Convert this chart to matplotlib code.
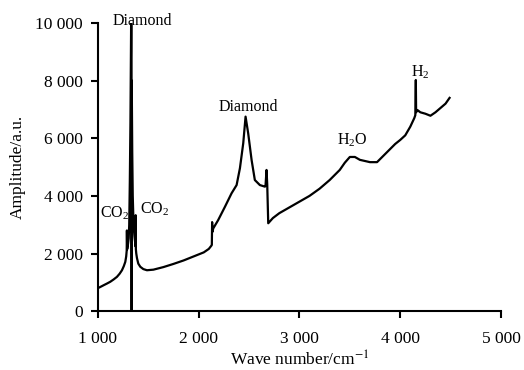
import matplotlib.pyplot as plt

# spectrum (wave number in cm-1, amplitude in a.u.)
wave = [1000, 1023, 1056, 1090, 1122, 1155, 1188, 1215, 1238, 1256, 1271, 1280, 1285,
        1287, 1290, 1297, 1305, 1310, 1316, 1322, 1326, 1329, 1332, 1333, 1334,
        1335, 1340, 1345, 1353, 1362, 1370, 1373, 1374, 1376, 1380, 1387, 1400,
        1420, 1450, 1486, 1550, 1650, 1750, 1850, 1950, 2050, 2100, 2125, 2130,
        2133, 2136, 2144, 2193, 2260, 2326, 2376, 2409, 2442, 2465, 2491, 2525,
        2557, 2607, 2657, 2663, 2673, 2680, 2690, 2736, 2800, 2900, 3000, 3100,
        3200, 3300, 3400, 3450, 3500, 3550, 3600, 3700, 3770, 3850, 3950, 4000,
        4050, 4100, 4140, 4150, 4155, 4158, 4170, 4200, 4250, 4300, 4350, 4400,
        4450, 4490]
amp = [800, 840, 900, 960, 1020, 1100, 1190, 1300, 1420, 1560, 1710, 1900, 2100,
       2800, 2150, 2300, 2530, 2990, 4500, 6500, 8500, 10000, 9900, 9000, 0,
       8000, 5500, 4000, 2990, 2600, 2350, 2250, 3330, 2150, 2000, 1840, 1650,
       1540, 1460, 1420, 1440, 1530, 1640, 1760, 1900, 2040, 2160, 2270, 2300,
       3090, 2750, 2870, 3160, 3620, 4090, 4375, 4960, 5830, 6750, 6170, 5240,
       4550, 4375, 4320, 4350, 4900, 4400, 3050, 3230, 3400, 3600, 3800, 4000,
       4250, 4550, 4900, 5150, 5350, 5350, 5250, 5170, 5170, 5450, 5800, 5940,
       6100, 6400, 6700, 6800, 8020, 6900, 6980, 6900, 6850, 6780, 6900, 7050,
       7200, 7400]

# label texts and where they sit
labels = ['Diamond', 'Diamond', '$\\mathregular{CO_2}$', '$\\mathregular{CO_2}$',
          '$\\mathregular{H_2O}$', '$\\mathregular{H_2}$']
label_x = [1437, 2488, 1169, 1565, 3520, 4195]
label_y = [10050, 7080, 3400, 3540, 5940, 8300]

plt.rcParams['font.family'] = ['Liberation Serif', 'DejaVu Serif']
plt.rcParams['mathtext.fontset'] = 'stix'

fig = plt.figure(figsize=(5.24, 3.7), dpi=100)
ax = fig.add_axes([0.187, 0.159, 0.769, 0.779])

ax.plot(wave, amp, color='black', linewidth=1.6)

for t, x, y in zip(labels, label_x, label_y):
    ax.text(x, y, t, ha='center', va='center', fontsize=11.5)

ax.set_xlim(1000, 5000)
ax.set_ylim(0, 10000)
ax.set_xticks([1000, 2000, 3000, 4000, 5000])
ax.set_xticklabels(['1 000', '2 000', '3 000', '4 000', '5 000'])
ax.set_yticks([0, 2000, 4000, 6000, 8000, 10000])
ax.set_yticklabels(['0', '2 000', '4 000', '6 000', '8 000', '10 000'])
ax.tick_params(direction='out', length=5, width=1.5, labelsize=12.5)
ax.tick_params(axis='x', pad=9)
ax.tick_params(axis='y', pad=6)
ax.spines['top'].set_visible(False)
ax.spines['right'].set_visible(False)
ax.spines['left'].set_linewidth(1.5)
ax.spines['bottom'].set_linewidth(1.5)
ax.set_xlabel('Wave number/cm$^{-1}$', fontsize=12.5, labelpad=3)
ax.set_ylabel('Amplitude/a.u.', fontsize=12.5, labelpad=7)

fig.savefig('out.png', dpi=100)
